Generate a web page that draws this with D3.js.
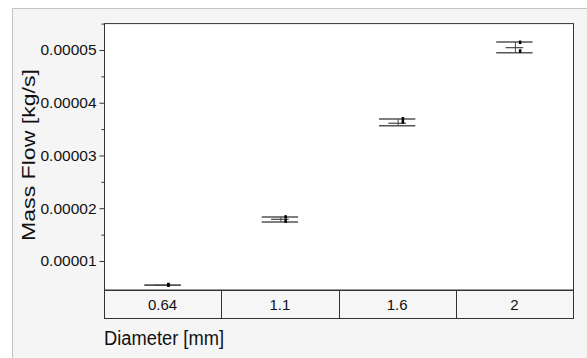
<!DOCTYPE html>
<html><head><meta charset="utf-8">
<script src="https://cdn.jsdelivr.net/npm/d3@7"></script>
<style>body{margin:0;background:#fff}svg{display:block}</style></head>
<body><svg id="c" width="587" height="358"></svg>
<script>
const categories = ["0.64", "1.1", "1.6", "2"];
const upperLine = [5.39e-6, 1.835e-5, 3.692e-5, 5.152e-5];
const lowerLine = [5.39e-6, 1.740e-5, 3.565e-5, 4.949e-5];
const meanLine  = [5.39e-6, 1.790e-5, 3.611e-5, 5.044e-5];
const pointsHigh = [5.60e-6, 1.840e-5, 3.700e-5, 5.150e-5];
const pointsLow  = [5.45e-6, 1.760e-5, 3.640e-5, 4.985e-5];
const yTicks = [1e-5, 2e-5, 3e-5, 4e-5, 5e-5];
const yTickLabels = ["0.00001", "0.00002", "0.00003", "0.00004", "0.00005"];
const yMinorTicks = [1.5e-5, 2.5e-5, 3.5e-5, 4.5e-5, 5.5e-5];
const yTitle = "Mass Flow [kg/s]";
const xTitle = "Diameter [mm]";

const svg = d3.select("#c");
const L = 104, R = 573, T = 23.6, B = 290, BAND = 318;
const FONT = "Liberation Sans, Arial, sans-serif";

// outer frame
svg.append("rect").attr("x", 12.5).attr("y", 8.5).attr("width", 600).attr("height", 400)
  .attr("fill", "#f5f5f5").attr("stroke", "#c4c4c4");

const x = d3.scaleBand().domain(categories).range([L, R]);
const y = d3.scaleLinear().domain([4.5e-6, 5.5e-5]).range([B, T]);

// plot area
svg.append("rect").attr("x", L + 0.5).attr("y", T).attr("width", R - L).attr("height", B - T)
  .attr("fill", "#fff").attr("stroke", "#333");

// category band
svg.append("rect").attr("x", L + 0.5).attr("y", B + 0.5).attr("width", R - L).attr("height", BAND - B)
  .attr("fill", "#f6f6f6").attr("stroke", "#333");
categories.slice(1).forEach(c => {
  svg.append("line").attr("x1", Math.round(x(c)) + 0.5).attr("x2", Math.round(x(c)) + 0.5)
    .attr("y1", B).attr("y2", BAND).attr("stroke", "#333");
});
svg.selectAll(".cat").data(categories).enter().append("text")
  .attr("x", d => x(d) + x.bandwidth() / 2).attr("y", 310)
  .attr("text-anchor", "middle").attr("font-family", FONT).attr("font-size", 15)
  .attr("fill", "#111").text(d => d);

// y axis
const yAxis = d3.axisLeft(y).tickValues(yTicks).tickSize(5).tickPadding(3)
  .tickFormat((d, i) => yTickLabels[i]);
const gy = svg.append("g").attr("transform", `translate(${L + 0.5},0)`).call(yAxis);
gy.select(".domain").remove();
gy.selectAll("text").attr("font-family", FONT).attr("font-size", 15.5).attr("fill", "#111");
gy.selectAll("line").attr("stroke", "#333");
const yMinor = d3.axisLeft(y).tickValues(yMinorTicks).tickSize(3).tickFormat("");
const gm = svg.append("g").attr("transform", `translate(${L + 0.5},0)`).call(yMinor);
gm.select(".domain").remove();
gm.selectAll("line").attr("stroke", "#333");

// titles
svg.append("text").attr("transform", "translate(35,155) rotate(-90)")
  .attr("text-anchor", "middle").attr("font-family", FONT).attr("font-size", 19)
  .attr("textLength", 172).attr("lengthAdjust", "spacingAndGlyphs")
  .attr("fill", "#111").text(yTitle);
svg.append("text").attr("x", 104).attr("y", 345)
  .attr("font-family", FONT).attr("font-size", 20)
  .attr("textLength", 120).attr("lengthAdjust", "spacingAndGlyphs")
  .attr("fill", "#111").text(xTitle);

// marks
const bw = x.bandwidth();
const cx = c => x(c) + bw / 2;
const g = svg.append("g");
categories.forEach((c, i) => {
  const c0 = cx(c);
  g.append("line").attr("x1", c0 - bw * 0.155).attr("x2", c0 + bw * 0.155)
    .attr("y1", y(upperLine[i])).attr("y2", y(upperLine[i])).attr("stroke", "#555").attr("stroke-width", 1.5);
  g.append("line").attr("x1", c0 - bw * 0.155).attr("x2", c0 + bw * 0.155)
    .attr("y1", y(lowerLine[i])).attr("y2", y(lowerLine[i])).attr("stroke", "#555").attr("stroke-width", 1.5);
  g.append("line").attr("x1", c0 - bw * 0.075).attr("x2", c0 + bw * 0.075)
    .attr("y1", y(meanLine[i])).attr("y2", y(meanLine[i])).attr("stroke", "#444").attr("stroke-width", 1.2);
  g.append("line").attr("x1", c0 + 1).attr("x2", c0 + 1)
    .attr("y1", y(upperLine[i])).attr("y2", y(lowerLine[i])).attr("stroke", "#444").attr("stroke-width", 1);
  [pointsHigh[i], pointsLow[i]].forEach(v => {
    g.append("rect").attr("x", c0 + 4.5).attr("y", y(v) - 1.5).attr("width", 2.5).attr("height", 3.5)
      .attr("fill", "#000");
  });
});
</script></body></html>
